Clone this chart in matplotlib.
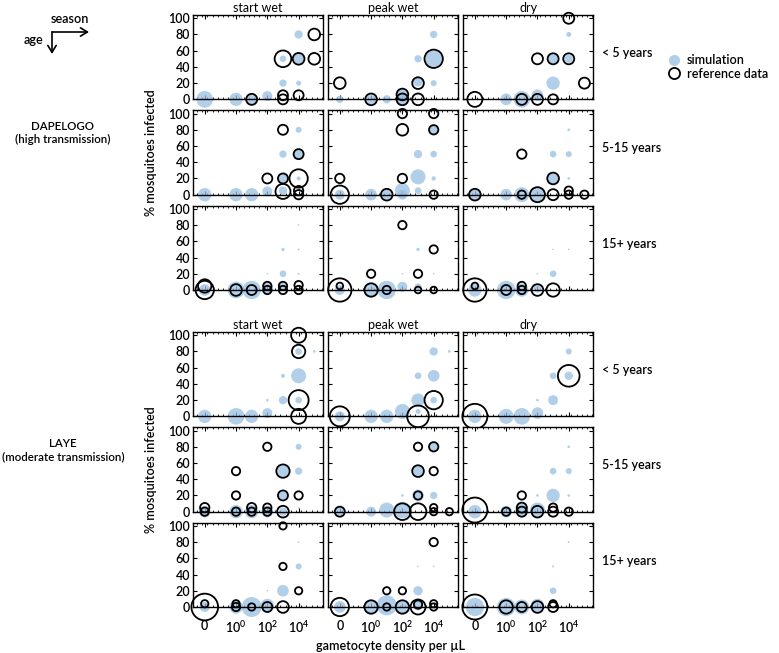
import numpy as np
import matplotlib
matplotlib.use("Agg")
import matplotlib.pyplot as plt
from matplotlib.lines import Line2D

plt.rcParams['font.family'] = ['Lato', 'DejaVu Sans']
plt.rcParams['font.weight'] = 'semibold'
plt.rcParams['mathtext.fontset'] = 'custom'
plt.rcParams['mathtext.rm'] = 'Lato:semibold'
plt.rcParams['mathtext.default'] = 'regular'

# each point: (gametocyte density per uL, % mosquitoes infected, relative bubble weight)
seasons = ["start wet", "peak wet", "dry"]
ages = ["< 5 years", "5-15 years", "15+ years"]
sites = ["DAPELOGO\n(high transmission)", "LAYE\n(moderate transmission)"]
xtick_labels = ['0', '$10^0$', '$10^2$', '$10^4$']

# DAPELOGO, < 5 years
dap_u5_start_sim = [(0, 0, 50), (1, 0, 40), (10, 0, 30), (100, 4, 30), (1e3, 20, 22), (1e3, 50, 20),
                    (1e4, 20, 15), (1e4, 50, 30), (1e4, 80, 25)]
dap_u5_start_ref = [(10, 0, 33), (1e3, 50, 50), (1e3, 5, 30), (1e3, 0, 30), (1e4, 50, 35), (1e4, 5, 30),
                    (1e5, 80, 35), (1e5, 50, 35)]
dap_u5_peak_sim = [(0, 0, 22), (1, 0, 30), (10, 0, 25), (100, 0, 40), (100, 6, 30), (1e3, 22, 30),
                   (1e3, 50, 22), (1e4, 80, 22), (1e4, 50, 50), (1e4, 20, 18)]
dap_u5_peak_ref = [(0, 20, 35), (1, 0, 35), (100, 0, 35), (100, 6, 35), (1e3, 0, 35), (1e3, 20, 35),
                   (1e4, 50, 55)]
dap_u5_dry_sim = [(1, 0, 35), (10, 0, 50), (100, 5, 35), (1e3, 20, 40), (1e3, 50, 28), (1e4, 80, 15),
                  (1e4, 50, 25)]
dap_u5_dry_ref = [(0, 0, 45), (10, 0, 33), (100, 0, 33), (1e3, 0, 30), (100, 50, 33), (1e3, 50, 33),
                  (1e4, 50, 33), (1e4, 100, 33), (1e5, 20, 33)]

# DAPELOGO, 5-15 years
dap_515_start_sim = [(0, 0, 40), (1, 0, 40), (10, 0, 40), (100, 4, 30), (1e3, 50, 22), (1e3, 20, 30),
                     (1e3, 5, 25), (1e4, 80, 18), (1e4, 50, 30), (1e4, 20, 12)]
dap_515_start_ref = [(1e3, 80, 30), (100, 20, 30), (1e3, 20, 30), (1e3, 4, 45), (1e4, 50, 30),
                     (1e4, 20, 55), (1e4, 5, 28), (1e4, 0, 28)]
dap_515_peak_sim = [(0, 0, 30), (1, 0, 35), (10, 0, 30), (100, 5, 45), (100, 0, 30), (1e3, 22, 45),
                    (1e3, 5, 20), (1e3, 50, 25), (1e4, 50, 20), (1e4, 20, 13), (1e4, 80, 25)]
dap_515_peak_ref = [(0, 20, 28), (0, 0, 55), (10, 0, 35), (100, 20, 28), (100, 80, 35), (100, 100, 28),
                    (1e4, 100, 28), (1e4, 80, 28), (1e4, 0, 25)]
dap_515_dry_sim = [(0, 0, 35), (1, 0, 35), (10, 0, 45), (100, 0, 45), (1e3, 20, 35), (1e3, 50, 20),
                   (1e4, 50, 18), (1e4, 80, 8), (1e4, 20, 8)]
dap_515_dry_ref = [(0, 0, 35), (10, 0, 25), (100, 0, 45), (1e3, 0, 33), (1e4, 0, 25), (1e4, 5, 25),
                   (1e5, 0, 25), (10, 50, 28), (1e3, 20, 35)]

# DAPELOGO, 15+ years
dap_15p_start_sim = [(0, 0, 35), (1, 0, 50), (10, 0, 55), (100, 2, 35), (100, 20, 5), (1e3, 20, 20),
                     (1e3, 50, 10), (1e3, 4, 25), (1e4, 80, 5), (1e4, 50, 6), (1e4, 20, 6)]
dap_15p_start_ref = [(0, 5, 40), (0, 0, 55), (1, 0, 35), (10, 0, 30), (100, 5, 25), (100, 0, 25),
                     (1e3, 5, 25), (1e3, 0, 25), (1e4, 6, 25), (1e4, 0, 25)]
dap_15p_peak_sim = [(0, 0, 30), (1, 0, 45), (10, 0, 55), (100, 4, 30), (100, 20, 5), (1e3, 50, 10),
                    (1e3, 4, 20), (1e4, 20, 5)]
dap_15p_peak_ref = [(0, 0, 70), (0, 5, 20), (1, 0, 40), (1, 20, 25), (10, 0, 25), (100, 80, 25),
                    (1e3, 20, 25), (1e3, 0, 20), (1e4, 50, 25), (1e4, 0, 20)]
dap_15p_dry_sim = [(0, 0, 40), (1, 0, 55), (10, 0, 40), (100, 2, 25), (100, 20, 5), (1e3, 20, 20),
                   (1e3, 50, 5), (1e4, 50, 5)]
dap_15p_dry_ref = [(0, 0, 70), (0, 5, 20), (1, 0, 30), (10, 5, 25), (10, 0, 25), (100, 0, 35),
                   (1e3, 0, 40)]

# LAYE, < 5 years
lay_u5_start_sim = [(0, 0, 40), (1, 0, 50), (10, 0, 40), (100, 4, 30), (100, 20, 8), (1e3, 20, 25),
                    (1e3, 50, 12), (1e4, 20, 20), (1e4, 50, 45), (1e4, 80, 20), (1e5, 80, 8)]
lay_u5_start_ref = [(1e4, 100, 45), (1e4, 80, 40), (1e4, 20, 60), (1e4, 0, 45)]
lay_u5_peak_sim = [(0, 0, 30), (1, 0, 40), (10, 0, 40), (100, 6, 45), (1e3, 20, 40), (1e3, 50, 20),
                   (1e3, 6, 15), (1e4, 50, 35), (1e4, 80, 25), (1e4, 20, 20), (1e5, 80, 8)]
lay_u5_peak_ref = [(0, 0, 60), (1e3, 0, 65), (1e4, 20, 55)]
lay_u5_dry_sim = [(0, 0, 40), (1, 0, 45), (10, 0, 50), (100, 4, 35), (100, 20, 8), (1e3, 20, 30),
                  (1e3, 50, 20), (1e4, 50, 25), (1e4, 80, 18)]
lay_u5_dry_ref = [(0, 0, 75), (1e4, 50, 65)]

# LAYE, 5-15 years
lay_515_start_sim = [(0, 0, 35), (1, 0, 40), (10, 0, 40), (100, 0, 35), (1e3, 0, 25), (1e3, 20, 25),
                     (1e3, 50, 35), (1e4, 80, 18), (1e4, 50, 22), (1e4, 5, 5)]
lay_515_start_ref = [(0, 5, 28), (0, 0, 25), (1, 50, 25), (1, 20, 25), (1, 0, 25), (10, 5, 28),
                     (10, 0, 25), (100, 80, 25), (100, 5, 25), (100, 0, 25), (1e3, 50, 40),
                     (1e3, 20, 30), (1e3, 0, 35), (1e4, 20, 25)]
lay_515_peak_sim = [(0, 0, 30), (1, 0, 30), (10, 2, 45), (100, 2, 50), (100, 20, 8), (1e3, 20, 35),
                    (1e3, 50, 30), (1e4, 20, 22), (1e4, 80, 25)]
lay_515_peak_ref = [(0, 0, 30), (100, 0, 50), (1e3, 0, 50), (1e3, 20, 25), (1e3, 50, 35), (1e3, 80, 25),
                    (1e4, 80, 28), (1e4, 50, 25), (1e4, 5, 22), (1e4, 0, 22), (1e5, 0, 22)]
lay_515_dry_sim = [(0, 0, 40), (1, 0, 35), (10, 2, 40), (100, 2, 45), (100, 20, 8), (1e3, 20, 40),
                   (1e3, 50, 20), (1e4, 50, 18), (1e4, 80, 8), (1e4, 20, 8)]
lay_515_dry_ref = [(0, 2, 75), (1, 0, 25), (10, 5, 30), (10, 0, 30), (10, 20, 25), (100, 0, 35),
                   (1e3, 5, 25), (1e3, 0, 30), (1e4, 0, 25)]

# LAYE, 15+ years
lay_15p_start_sim = [(0, 0, 30), (1, 0, 40), (10, 0, 60), (100, 2, 40), (100, 20, 5), (1e3, 20, 35),
                     (1e4, 50, 18), (1e4, 80, 5)]
lay_15p_start_ref = [(0, 0, 80), (0, 4, 22), (1, 4, 22), (1, 0, 25), (10, 0, 22), (100, 0, 30),
                     (1e3, 0, 35), (1e3, 50, 22), (1e3, 100, 22), (1e4, 20, 22)]
lay_15p_peak_sim = [(0, 0, 35), (1, 0, 45), (10, 2, 60), (100, 0, 45), (1e3, 20, 28), (1e3, 50, 5),
                    (1e4, 50, 5), (1e3, 2, 30)]
lay_15p_peak_ref = [(0, 0, 55), (1, 0, 40), (10, 20, 22), (10, 0, 22), (100, 20, 22), (100, 0, 40),
                    (1e3, 3, 25), (1e3, 0, 45), (1e4, 80, 25), (1e4, 4, 22), (1e4, 0, 22)]
lay_15p_dry_sim = [(0, 0, 55), (1, 0, 55), (10, 0, 45), (100, 2, 40), (1e3, 20, 20), (1e3, 50, 6),
                   (1e4, 80, 6)]
lay_15p_dry_ref = [(0, 0, 75), (1, 0, 40), (10, 0, 30), (100, 0, 35), (1e3, 4, 22), (1e3, 0, 30)]

panels = [
    [[dap_u5_start_sim, dap_u5_start_ref], [dap_u5_peak_sim, dap_u5_peak_ref], [dap_u5_dry_sim, dap_u5_dry_ref]],
    [[dap_515_start_sim, dap_515_start_ref], [dap_515_peak_sim, dap_515_peak_ref], [dap_515_dry_sim, dap_515_dry_ref]],
    [[dap_15p_start_sim, dap_15p_start_ref], [dap_15p_peak_sim, dap_15p_peak_ref], [dap_15p_dry_sim, dap_15p_dry_ref]],
    [[lay_u5_start_sim, lay_u5_start_ref], [lay_u5_peak_sim, lay_u5_peak_ref], [lay_u5_dry_sim, lay_u5_dry_ref]],
    [[lay_515_start_sim, lay_515_start_ref], [lay_515_peak_sim, lay_515_peak_ref], [lay_515_dry_sim, lay_515_dry_ref]],
    [[lay_15p_start_sim, lay_15p_start_ref], [lay_15p_peak_sim, lay_15p_peak_ref], [lay_15p_dry_sim, lay_15p_dry_ref]],
]

ZERO_POS = 1e-2  # where density 0 is drawn on the log axis
BLUE = (0.60, 0.75, 0.89)
FS = 9


def unpack(pts):
    a = np.array(pts, dtype=float)
    x = np.where(a[:, 0] == 0, ZERO_POS, a[:, 0])
    s = (a[:, 2] * 0.24) ** 2
    return x, a[:, 1], s


fig = plt.figure(figsize=(7.79, 6.53), dpi=100)
L, R = 193 / 779, 593 / 779
gs_top = fig.add_gridspec(3, 3, left=L, right=R, top=1 - 15 / 653, bottom=1 - 290 / 653,
                          wspace=0.04, hspace=0.13)
gs_bot = fig.add_gridspec(3, 3, left=L, right=R, top=1 - 332 / 653, bottom=1 - 607 / 653,
                          wspace=0.04, hspace=0.13)

axes = np.empty((6, 3), dtype=object)
for r in range(6):
    gs = gs_top if r < 3 else gs_bot
    for c in range(3):
        ax = fig.add_subplot(gs[r % 3, c])
        axes[r, c] = ax
        sim, ref = panels[r][c]
        x, y, s = unpack(sim)
        ax.scatter(x, y, s=s, color=BLUE, alpha=0.75, edgecolors='none', zorder=2, clip_on=False)
        x, y, s = unpack(ref)
        ax.scatter(x, y, s=s, facecolors='none', edgecolors='black', linewidths=1.3, zorder=3,
                   clip_on=False)
        ax.set_xscale('log')
        ax.set_xlim(10 ** -2.75, 10 ** 5.55)
        ax.set_ylim(0, 104)
        ax.set_xticks([1e-2, 1, 1e2, 1e4])
        ax.xaxis.set_minor_locator(matplotlib.ticker.FixedLocator(10 ** np.arange(-2.5, 5.6, 1 / 3)))
        ax.xaxis.set_minor_formatter(matplotlib.ticker.NullFormatter())
        ax.set_yticks([0, 20, 40, 60, 80, 100])
        ax.tick_params(which='both', direction='in', top=True, right=True, labelsize=FS, pad=2)
        ax.tick_params(which='major', length=3, width=0.8)
        ax.tick_params(which='minor', length=1.5, width=0.6)
        for sp in ax.spines.values():
            sp.set_linewidth(1.0)
        if r == 5:
            ax.set_xticklabels(xtick_labels)
            ax.tick_params(axis='x', pad=9)
        else:
            ax.set_xticklabels([])
        if c != 0:
            ax.set_yticklabels([])
        if r in (0, 3):
            ax.set_title(seasons[c], fontsize=FS, pad=2)
        if c == 2:
            ax.text(1.07, 0.55, ages[r % 3], transform=ax.transAxes, fontsize=FS,
                    ha='left', va='center')

for r0 in (0, 3):
    y0 = axes[r0, 0].get_position().y1
    y1 = axes[r0 + 2, 0].get_position().y0
    fig.text(151 / 779, (y0 + y1) / 2, '% mosquitoes infected', rotation=90, fontsize=FS,
             ha='center', va='center')
    fig.text(63 / 779, (y0 + y1) / 2 + 0.03, sites[r0 // 3], fontsize=8.3, ha='center', va='center',
             linespacing=1.3)

fig.text(390 / 779, 1 - 646 / 653, 'gametocyte density per µL', fontsize=FS, ha='center', va='center')

# legend
leg_handles = [
    Line2D([], [], marker='o', linestyle='none', markersize=8, markerfacecolor=BLUE,
           markeredgecolor='none', alpha=0.75, label='simulation'),
    Line2D([], [], marker='o', linestyle='none', markersize=8, markerfacecolor='none',
           markeredgecolor='black', markeredgewidth=1.3, label='reference data'),
]
fig.legend(handles=leg_handles, loc='center left', bbox_to_anchor=(668 / 779, 1 - 67 / 653),
           frameon=False, fontsize=FS, handletextpad=0.5, labelspacing=0.1, borderpad=0,
           handlelength=1.0, borderaxespad=0)

# season / age arrows
fig.text(70 / 779, 1 - 19 / 653, 'season', fontsize=FS, ha='center', va='center')
fig.text(33 / 779, 1 - 40 / 653, 'age', fontsize=FS, ha='center', va='center')
p0 = (52 / 779, 1 - 32 / 653)
fig.add_artist(matplotlib.patches.FancyArrowPatch(p0, (89 / 779, 1 - 32 / 653), transform=fig.transFigure,
               arrowstyle='->,head_length=5,head_width=3', color='black', lw=1.2, shrinkA=0, shrinkB=0))
fig.add_artist(matplotlib.patches.FancyArrowPatch(p0, (52 / 779, 1 - 54 / 653), transform=fig.transFigure,
               arrowstyle='->,head_length=5,head_width=3', color='black', lw=1.2, shrinkA=0, shrinkB=0))

fig.savefig('out.png', dpi=100)
